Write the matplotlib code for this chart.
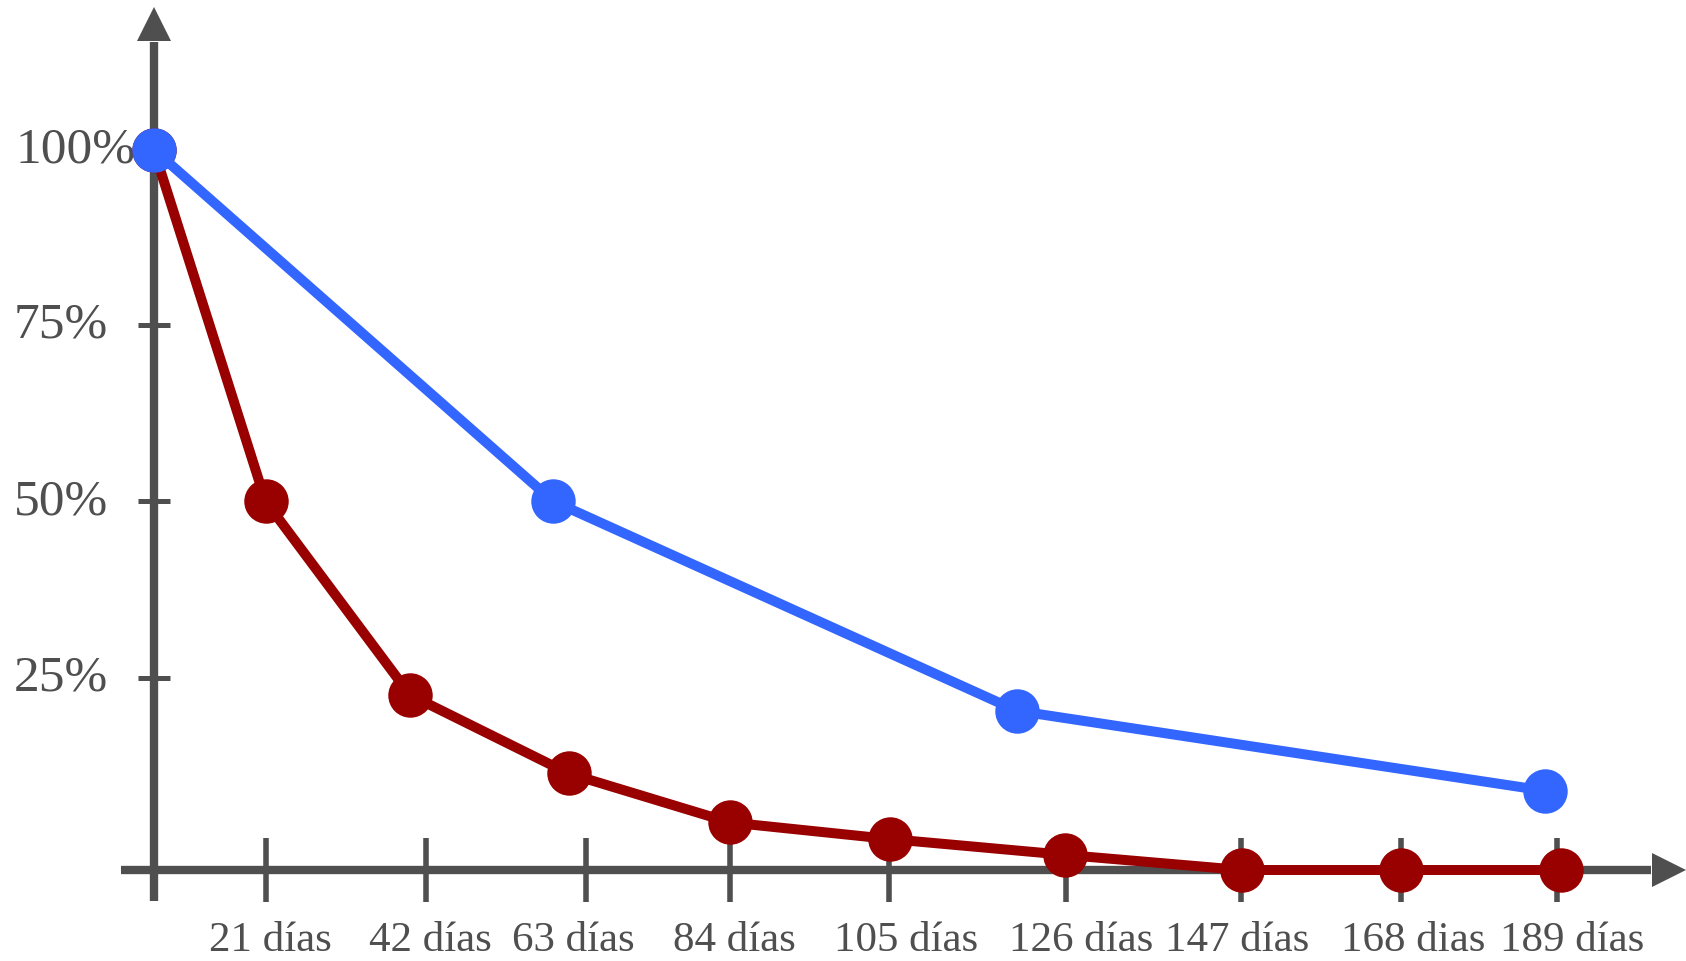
import matplotlib
matplotlib.use("Agg")
import matplotlib.pyplot as plt

plt.rcParams['font.family'] = ['Liberation Serif', 'DejaVu Serif']

# positions along the x axis (in days) as drawn in the picture
red_x = [0, 15.0, 34.4, 55.7, 77.4, 98.8, 122.4, 146.1, 167.5, 189.0]
red_y = [100, 51.2, 24.3, 13.4, 6.6, 4.3, 2.1, 0, 0, 0]
blue_x = [0, 53.6, 115.9, 186.8]
blue_y = [100, 51.2, 22.1, 11.0]

xtick_pos = [15.1, 36.5, 58.0, 77.4, 98.7, 122.5, 146.0, 167.4, 188.4]
xlabel_pos = [15.6, 37.1, 56.3, 78.0, 101.0, 124.5, 145.4, 169.1, 190.4]
xtick_labels = ['21 días', '42 días', '63 días', '84 días', '105 días',
                '126 días', '147 días', '168 dias', '189 días']
ytick_pos = [26.7, 51.2, 75.7, 100]
ytick_labels = ['25%', '50%', '75%', '100%']

axc = '#4f4f4f'
red = '#990000'
blue = '#3366ff'

fig = plt.figure(figsize=(16.86, 9.62), dpi=100)
ax = fig.add_axes([0, 0, 1, 1])
ax.set_xlim(-20.65, 205.72)
ax.set_ylim(-12.63, 120.91)
ax.patch.set_alpha(0)

for s in ['top', 'right']:
    ax.spines[s].set_visible(False)
ax.spines['left'].set_position(('data', 0))
ax.spines['bottom'].set_position(('data', 0))
ax.spines['left'].set_bounds(-4.3, 114.9)
ax.spines['bottom'].set_bounds(-4.4, 201.0)
for s in ['left', 'bottom']:
    ax.spines[s].set_linewidth(6)
    ax.spines[s].set_color(axc)
    ax.spines[s].set_capstyle('butt')

# arrow heads
ax.plot([0], [117.4], marker='^', ms=25, mew=0, color=axc, clip_on=False)
ax.plot([203.4], [0], marker='>', ms=25, mew=0, color=axc, clip_on=False)

ax.set_xticks(xtick_pos, [''] * len(xtick_pos))
ax.tick_params(axis='x', direction='inout', length=46, width=4, color=axc)
ax.set_yticks(ytick_pos, [''] * len(ytick_pos))
ax.tick_params(axis='y', direction='inout', length=23, width=3.6, color=axc)

for pos, lab in zip(xlabel_pos, xtick_labels):
    ax.annotate(lab, xy=(pos, 0), xytext=(0, -36.5), textcoords='offset points',
                ha='center', va='top', fontsize=31, color=axc)

for pos, lab in zip(ytick_pos, ytick_labels):
    off = -13.5 if lab == '100%' else -33
    ax.annotate(lab, xy=(0, pos), xytext=(off, 0), textcoords='offset points',
                ha='right', va='center', fontsize=37, color=axc, zorder=3)

ax.plot(red_x, red_y, color=red, lw=7.2, marker='o', ms=32, mew=0,
        zorder=4, clip_on=False)
ax.plot(blue_x, blue_y, color=blue, lw=7.2, marker='o', ms=32, mew=0,
        zorder=5, clip_on=False)

fig.savefig('out.png', dpi=100)
